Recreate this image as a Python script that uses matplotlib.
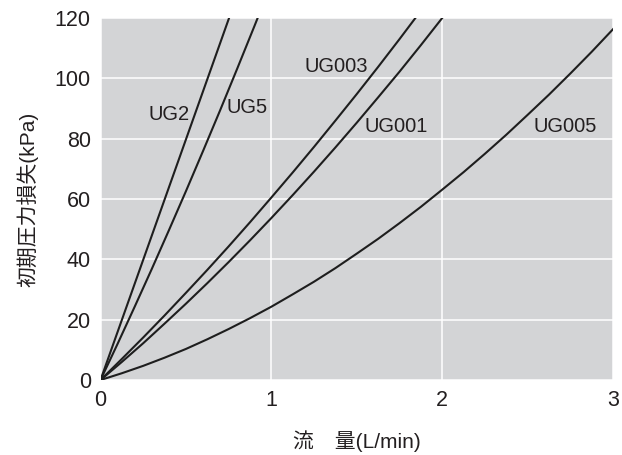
import matplotlib
matplotlib.use('Agg')
from matplotlib import pyplot as plt

plt.rcParams['font.family'] = ['Liberation Sans', 'Noto Sans CJK JP']

# values (flow L/min, initial pressure loss kPa)
ug2_x = [0, 0.2, 0.4, 0.6, 0.78]
ug2_y = [0, 31.9, 63.8, 95.7, 124.4]

ug5_x = [0, 0.1, 0.2, 0.3, 0.4, 0.5, 0.6, 0.7, 0.8, 0.9, 0.95]
ug5_y = [0, 12.0, 24.3, 36.8, 49.6, 62.6, 75.9, 89.4, 103.2, 117.2, 124.3]

ug003_x = [0, 0.125, 0.25, 0.375, 0.5, 0.625, 0.75, 0.875, 1.0, 1.125,
           1.25, 1.375, 1.5, 1.625, 1.75, 1.875]
ug003_y = [0, 7.0, 14.1, 21.4, 28.9, 36.5, 44.3, 52.3, 60.5, 68.8,
           77.3, 86.0, 94.8, 103.8, 113.0, 122.4]

ug001_x = [0, 0.125, 0.25, 0.375, 0.5, 0.625, 0.75, 0.875, 1.0, 1.125,
           1.25, 1.375, 1.5, 1.625, 1.75, 1.875, 2.0, 2.05]
ug001_y = [0, 6.0, 12.2, 18.7, 25.3, 32.1, 39.1, 46.3, 53.7, 61.3,
           69.1, 77.1, 85.3, 93.7, 102.2, 111.0, 120.0, 123.7]

ug005_x = [0, 0.125, 0.25, 0.375, 0.5, 0.625, 0.75, 0.875, 1.0, 1.125,
           1.25, 1.375, 1.5, 1.625, 1.75, 1.875, 2.0, 2.125, 2.25, 2.375,
           2.5, 2.625, 2.75, 2.875, 3.0]
ug005_y = [0, 2.25, 4.7, 7.4, 10.3, 13.5, 16.9, 20.5, 24.3, 28.4,
           32.6, 37.1, 41.9, 46.8, 52.0, 57.4, 63.1, 68.9, 75.0, 81.3,
           87.9, 94.6, 101.6, 108.8, 116.3]

labels = ['UG2', 'UG5', 'UG003', 'UG001', 'UG005']
label_x = [0.40, 0.86, 1.38, 1.73, 2.72]
label_y = [88, 90.5, 104, 84.2, 84]

fig = plt.figure(figsize=(6.22, 4.55), dpi=100)
ax = fig.add_axes([0.1616, 0.1648, 0.824, 0.7956])
ax.set_facecolor('#d3d4d6')

series = [(ug2_x, ug2_y), (ug5_x, ug5_y), (ug003_x, ug003_y),
          (ug001_x, ug001_y), (ug005_x, ug005_y)]
for xs, ys in series:
    ax.plot(xs, ys, color='#1e1e1e', lw=1.5, zorder=3,
            solid_joinstyle='round')

for name, tx, ty in zip(labels, label_x, label_y):
    ax.text(tx, ty, name, ha='center', va='center', fontsize=14.5,
            color='#231f20', zorder=4)

ax.set_xlim(0, 3)
ax.set_ylim(0, 120)
ax.set_xticks([0, 1, 2, 3])
ax.set_yticks([0, 20, 40, 60, 80, 100, 120])
ax.grid(True, color='white', lw=1.1)
ax.set_axisbelow(True)
for s in ax.spines.values():
    s.set_visible(False)
ax.tick_params(length=0, labelsize=15.5, colors='#231f20', pad=7)

ax.set_xlabel('流\u3000量(L/min)', fontsize=15, color='#231f20', labelpad=14)
ax.set_ylabel('初期圧力損失(kPa)', fontsize=15, color='#231f20', labelpad=12)

fig.savefig('out.png', dpi=100)
